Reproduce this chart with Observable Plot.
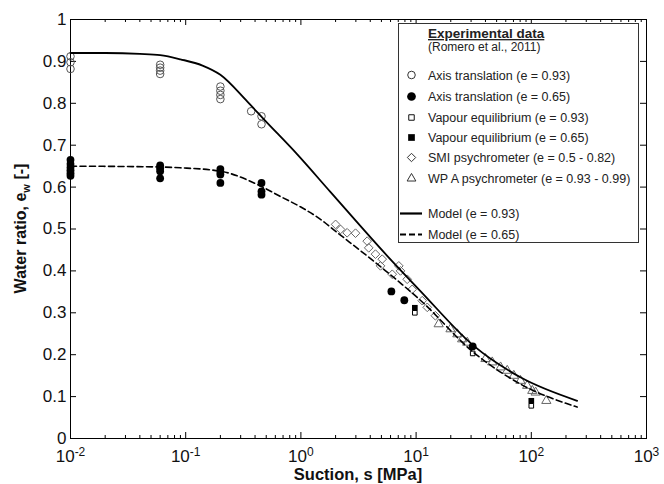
<!DOCTYPE html>
<html><head><meta charset="utf-8">
<script src="https://cdn.jsdelivr.net/npm/d3@7"></script>
<script src="https://cdn.jsdelivr.net/npm/@observablehq/plot@0.6"></script>
<style>body{margin:0;background:#fff} #chart svg{font-family:"Liberation Sans",Arial,sans-serif}</style>
</head><body><div id="chart"></div>
<script>
// ---- Data ----
// Axis translation, e = 0.93 (open circles)
const at93S = [0.01, 0.01, 0.01, 0.06, 0.06, 0.06, 0.06, 0.2, 0.2, 0.2, 0.2, 0.37, 0.455, 0.455];
const at93E = [0.912, 0.898, 0.882, 0.892, 0.885, 0.878, 0.870, 0.840, 0.830, 0.820, 0.810, 0.781, 0.769, 0.750];
// Axis translation, e = 0.65 (filled circles)
const at65S = [0.01, 0.01, 0.01, 0.01, 0.01, 0.01, 0.06, 0.06, 0.06, 0.06, 0.2, 0.2, 0.2, 0.2, 0.455, 0.455, 0.455, 6.1, 7.9, 31];
const at65E = [0.665, 0.655, 0.647, 0.640, 0.633, 0.627, 0.652, 0.645, 0.638, 0.621, 0.643, 0.636, 0.630, 0.610, 0.610, 0.590, 0.582, 0.351, 0.330, 0.220];
// Vapour equilibrium, e = 0.93 (open squares)
const ve93S = [9.75, 31, 100];
const ve93E = [0.300, 0.203, 0.078];
// Vapour equilibrium, e = 0.65 (filled squares)
const ve65S = [9.75, 100];
const ve65E = [0.312, 0.090];
// SMI psychrometer, e = 0.5 - 0.82 (diamonds)
const smiS = [2.0, 2.21, 2.52, 2.98, 3.76, 3.88, 4.44, 5.08, 4.91, 6.21, 7.08, 7.32, 8.37, 9.25, 11.3, 12.5, 14.7];
const smiE = [0.511, 0.499, 0.491, 0.490, 0.471, 0.455, 0.440, 0.428, 0.412, 0.392, 0.412, 0.400, 0.380, 0.356, 0.329, 0.313, 0.293];
// WPA psychrometer, e = 0.93 - 0.99 (triangles)
const wpaS = [15.7, 19.9, 22.8, 25.1, 27.8, 40.0, 45.8, 54.1, 61.8, 70.5, 80.5, 92.1, 102, 109, 135];
const wpaE = [0.273, 0.261, 0.249, 0.237, 0.229, 0.190, 0.182, 0.170, 0.162, 0.150, 0.138, 0.126, 0.114, 0.110, 0.090];
// Model curves
const m93S = [0.01, 0.02, 0.04, 0.06, 0.09, 0.14, 0.2, 0.34, 0.48, 0.93, 1.81, 5.61, 10.9, 31.7, 80.5, 250];
const m93E = [0.920, 0.920, 0.918, 0.915, 0.905, 0.890, 0.868, 0.805, 0.761, 0.678, 0.588, 0.436, 0.352, 0.221, 0.146, 0.090];
const m65S = [0.01, 0.06, 0.09, 0.2, 0.45, 0.67, 0.99, 1.48, 1.93, 4.91, 10.9, 31.7, 80.5, 250];
const m65E = [0.650, 0.648, 0.646, 0.638, 0.602, 0.577, 0.553, 0.523, 0.498, 0.410, 0.330, 0.205, 0.130, 0.075];
// Ticks
const xMajor = [0.01, 0.1, 1, 10, 100, 1000];
const xMinor = [];
for (let k = -2; k <= 2; k++) for (let m = 2; m <= 9; m++) xMinor.push(m * Math.pow(10, k));
const yTicks = [0, 0.1, 0.2, 0.3, 0.4, 0.5, 0.6, 0.7, 0.8, 0.9, 1];
// Legend labels
const legendTitle = "Experimental data";
const legendSub = "(Romero et al., 2011)";
const legendItems = [
  "Axis translation (e = 0.93)",
  "Axis translation (e = 0.65)",
  "Vapour equilibrium (e = 0.93)",
  "Vapour equilibrium (e = 0.65)",
  "SMI psychrometer (e = 0.5 - 0.82)",
  "WP A psychrometer (e = 0.93 - 0.99)"
];
const modelItems = ["Model (e = 0.93)", "Model (e = 0.65)"];

// ---- Layout ----
const W = 664, H = 484, mL = 70, mR = 18, mT = 19, mB = 46;
const innerW = W - mL - mR, innerH = H - mT - mB;
const pts = (s, e) => s.map((d, i) => ({s: d, e: e[i]}));

const plot = Plot.plot({
  width: W, height: H,
  marginLeft: mL, marginRight: mR, marginTop: mT, marginBottom: mB,
  style: {fontFamily: "Liberation Sans, Arial, sans-serif", fontSize: "17px", background: "white", color: "#111"},
  x: {type: "log", domain: [0.01, 1000], axis: null},
  y: {domain: [0, 1], axis: null},
  marks: [
    // ticks inside the frame
    Plot.tickX(xMajor, {x: d => d, insetTop: innerH - 6, stroke: "black"}),
    Plot.tickX(xMajor, {x: d => d, insetBottom: innerH - 6, stroke: "black"}),
    Plot.tickX(xMinor, {x: d => d, insetTop: innerH - 3, stroke: "black"}),
    Plot.tickX(xMinor, {x: d => d, insetBottom: innerH - 3, stroke: "black"}),
    Plot.tickY(yTicks, {y: d => d, insetRight: innerW - 6, stroke: "black"}),
    Plot.tickY(yTicks, {y: d => d, insetLeft: innerW - 6, stroke: "black"}),
    Plot.axisX({ticks: xMajor, tickSize: 0, tickPadding: 11, fontSize: 17, label: null,
      tickFormat: d => String(Math.round(Math.log10(d)))}),
    Plot.axisY({ticks: yTicks, tickSize: 0, tickPadding: 4, fontSize: 17, label: null,
      tickFormat: d => String(d)}),
    Plot.frame({stroke: "black"}),
    // data
    Plot.dot(pts(smiS, smiE), {x: "s", y: "e", symbol: "diamond2", r: 3.9, stroke: "#666", fill: "none", strokeWidth: 1}),
    Plot.dot(pts(wpaS, wpaE), {x: "s", y: "e", symbol: "triangle2", r: 4.4, stroke: "#666", fill: "none", strokeWidth: 1}),
    Plot.dot(pts(at93S, at93E), {x: "s", y: "e", symbol: "circle", r: 3.8, stroke: "#555", fill: "none", strokeWidth: 1}),
    Plot.dot(pts(at65S, at65E), {x: "s", y: "e", symbol: "circle", r: 3.9, fill: "black", stroke: "none"}),
    Plot.dot(pts(ve93S, ve93E), {x: "s", y: "e", symbol: "square", r: 2.6, fill: "white", stroke: "black", strokeWidth: 1}),
    Plot.dot(pts(ve65S, ve65E), {x: "s", y: "e", symbol: "square", r: 3.2, fill: "black", stroke: "none"}),
    // models
    Plot.line(pts(m93S, m93E), {x: "s", y: "e", curve: "monotone-x", stroke: "black", strokeWidth: 1.8}),
    Plot.line(pts(m65S, m65E), {x: "s", y: "e", curve: "monotone-x", stroke: "black", strokeWidth: 1.6, strokeDasharray: "6,3.5"})
  ]
});
document.getElementById("chart").appendChild(plot);

const svg = d3.select(plot);
// superscript exponents on x tick labels
svg.selectAll('g[aria-label="x-axis tick label"] text').each(function() {
  const t = d3.select(this);
  const exp = t.text();
  t.text("");
  t.append("tspan").text("10");
  t.append("tspan").attr("dy", "-0.45em").attr("font-size", "12px").text(exp);
});

// axis titles
svg.append("text").attr("x", (mL + W - mR) / 2).attr("y", 480)
  .attr("text-anchor", "middle").attr("font-weight", "bold").attr("font-size", "16.5px").attr("fill", "#111")
  .text("Suction, s [MPa]");
const yt = svg.append("text").attr("transform", `translate(26,${mT + innerH / 2}) rotate(-90)`)
  .attr("text-anchor", "middle").attr("font-weight", "bold").attr("font-size", "16px").attr("fill", "#111");
yt.append("tspan").text("Water ratio, e");
yt.append("tspan").attr("font-size", "11px").attr("dy", "4").text("w");
yt.append("tspan").attr("dy", "-4").text(" [-]");

// legend
const lg = svg.append("g").attr("font-size", "12.5px").attr("fill", "#222").attr("text-anchor", "start");
lg.append("rect").attr("x", 398.5).attr("y", 23.5).attr("width", 240).attr("height", 219)
  .attr("fill", "white").attr("stroke", "#333").attr("stroke-width", 1);
lg.append("text").attr("x", 428).attr("y", 38).attr("font-weight", "bold").attr("font-size", "13.5px")
  .attr("text-decoration", "underline").text(legendTitle);
lg.append("text").attr("x", 428).attr("y", 51).attr("font-size", "12px").text(legendSub);
const rowsY = [75, 96.5, 117.5, 137.5, 157.5, 178.5];
const symDefs = [
  {type: d3.symbolCircle, size: 45, fill: "none", stroke: "#333"},
  {type: d3.symbolCircle, size: 60, fill: "black", stroke: "none"},
  {type: d3.symbolSquare, size: 30, fill: "white", stroke: "#111"},
  {type: d3.symbolSquare, size: 45, fill: "black", stroke: "none"},
  {type: d3.symbolDiamond2, size: 45, fill: "none", stroke: "#333"},
  {type: d3.symbolTriangle2, size: 55, fill: "none", stroke: "#333"}
];
legendItems.forEach((label, i) => {
  const sd = symDefs[i];
  lg.append("path").attr("d", d3.symbol(sd.type, sd.size)())
    .attr("transform", `translate(411.5,${rowsY[i]})`)
    .attr("fill", sd.fill).attr("stroke", sd.stroke).attr("stroke-width", 1);
  lg.append("text").attr("x", 428).attr("y", rowsY[i]).attr("dy", "0.36em").text(label);
});
const modelY = [213.5, 234.5];
modelItems.forEach((label, i) => {
  lg.append("line").attr("x1", 400).attr("x2", 422).attr("y1", modelY[i]).attr("y2", modelY[i])
    .attr("stroke", "black").attr("stroke-width", i ? 2 : 2.2).attr("stroke-dasharray", i ? "6,3" : null);
  lg.append("text").attr("x", 428).attr("y", modelY[i]).attr("dy", "0.36em").text(label);
});
</script></body></html>
